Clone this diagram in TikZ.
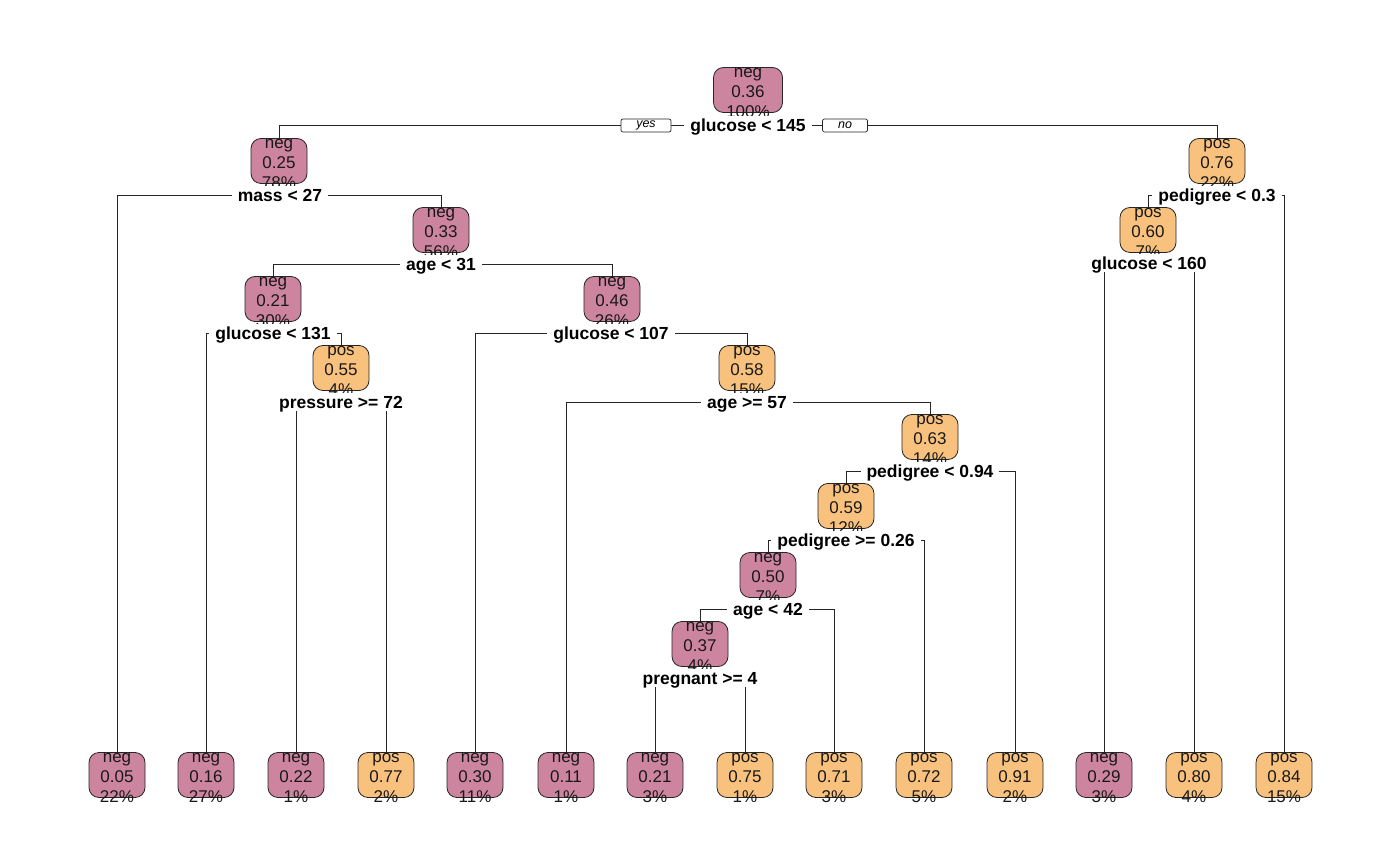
\documentclass[tikz,border=0pt]{standalone}
\usepackage{fontspec}
\setmainfont{Liberation Sans}
\pgfdeclarelayer{bg}
\pgfsetlayers{bg,main}
\definecolor{negc}{RGB}{205,132,158}
\definecolor{posc}{RGB}{248,193,125}
\newcommand\tn[7]{%
  \node[#4] (#1) at (#2,#3+23) {};
  \node[txt] (#1a) at (#2,#3+4) {#5};
  \node[txt] (#1b) at (#2,#3+24) {#6};
  \node[txt] (#1c) at (#2,#3+44) {#7};
}
\begin{document}
\begin{tikzpicture}[x=1pt,y=-1pt,
  box/.style={draw=black!85, line width=0.8pt, rounded corners=10pt, minimum width=56pt, minimum height=45pt, inner sep=0pt},
  negbox/.style={box, fill=negc},
  posbox/.style={box, fill=posc},
  txt/.style={font=\fontsize{17}{20}\selectfont, inner sep=0pt, text height=12.4pt, text depth=0pt, text=black!90},
  split/.style={font=\fontsize{17.5}{21}\selectfont\bfseries, fill=white, inner xsep=6pt, inner ysep=0pt, text height=15.5pt, text depth=3pt},
  yn/.style={draw=black!85, fill=white, rounded corners=2pt, font=\fontsize{12.5}{14}\selectfont\itshape, minimum height=13pt, inner sep=0pt, line width=0.7pt},
  conn/.style={draw=black!85, line width=0.9pt}]
\useasboundingbox (0,0) rectangle (1400,866);
% internal nodes
\tn{n1}{748}{67}{negbox,minimum width=69pt}{neg}{0.36}{100\%}
\tn{n2}{279}{138}{negbox}{neg}{0.25}{78\%}
\tn{n3}{1217}{138}{posbox}{pos}{0.76}{22\%}
\tn{n4}{441}{207}{negbox}{neg}{0.33}{56\%}
\tn{n6}{1148}{207}{posbox}{pos}{0.60}{7\%}
\tn{n8}{273}{276}{negbox}{neg}{0.21}{30\%}
\tn{n9}{612}{276}{negbox}{neg}{0.46}{26\%}
\tn{n10}{341}{345}{posbox}{pos}{0.55}{4\%}
\tn{n11}{747}{345}{posbox}{pos}{0.58}{15\%}
\tn{n12}{930}{414}{posbox}{pos}{0.63}{14\%}
\tn{n13}{846}{483}{posbox}{pos}{0.59}{12\%}
\tn{n14}{768}{552}{negbox}{neg}{0.50}{7\%}
\tn{n15}{700}{621}{negbox}{neg}{0.37}{4\%}
% leaves
\tn{l1}{117}{752}{negbox}{neg}{0.05}{22\%}
\tn{l2}{206}{752}{negbox}{neg}{0.16}{27\%}
\tn{l3}{296}{752}{negbox}{neg}{0.22}{1\%}
\tn{l4}{386}{752}{posbox}{pos}{0.77}{2\%}
\tn{l5}{475}{752}{negbox}{neg}{0.30}{11\%}
\tn{l6}{566}{752}{negbox}{neg}{0.11}{1\%}
\tn{l7}{655}{752}{negbox}{neg}{0.21}{3\%}
\tn{l8}{745}{752}{posbox}{pos}{0.75}{1\%}
\tn{l9}{834}{752}{posbox}{pos}{0.71}{3\%}
\tn{l10}{924}{752}{posbox}{pos}{0.72}{5\%}
\tn{l11}{1015}{752}{posbox}{pos}{0.91}{2\%}
\tn{l12}{1104}{752}{negbox}{neg}{0.29}{3\%}
\tn{l13}{1194}{752}{posbox}{pos}{0.80}{4\%}
\tn{l14}{1284}{752}{posbox}{pos}{0.84}{15\%}
% split labels
\node[split] (s1) at (748,125) {glucose < 145};
\node[split] (s2) at (280,195) {mass < 27};
\node[split] (s3) at (1217,195) {pedigree < 0.3};
\node[split] (s4) at (441,264) {age < 31};
\node[split] (s6) at (1149,263) {glucose < 160};
\node[split] (s8) at (273,333) {glucose < 131};
\node[split] (s9) at (611,333) {glucose < 107};
\node[split] (s10) at (341,402) {pressure >= 72};
\node[split] (s11) at (747,402) {age >= 57};
\node[split] (s12) at (930,471) {pedigree < 0.94};
\node[split] (s13) at (846,540) {pedigree >= 0.26};
\node[split] (s14) at (768,609) {age < 42};
\node[split] (s15) at (700,678) {pregnant >= 4};
\node[yn,minimum width=50pt] (yes) at (646,125.5) {yes};
\node[yn,minimum width=45pt] (no) at (845,125.5) {no};
% connectors
\begin{pgfonlayer}{bg}
\draw[conn] (s1.center) -| (n2.north);
\draw[conn] (s1.center) -| (n3.north);
\draw[conn] (s2.center) -| (l1.north);
\draw[conn] (s2.center) -| (n4.north);
\draw[conn] (s3.center) -| (n6.north);
\draw[conn] (s3.center) -| (l14.north);
\draw[conn] (s4.center) -| (n8.north);
\draw[conn] (s4.center) -| (n9.north);
\draw[conn] (s6.center) -| (l12.north);
\draw[conn] (s6.center) -| (l13.north);
\draw[conn] (s8.center) -| (l2.north);
\draw[conn] (s8.center) -| (n10.north);
\draw[conn] (s9.center) -| (l5.north);
\draw[conn] (s9.center) -| (n11.north);
\draw[conn] (s10.center) -| (l3.north);
\draw[conn] (s10.center) -| (l4.north);
\draw[conn] (s11.center) -| (l6.north);
\draw[conn] (s11.center) -| (n12.north);
\draw[conn] (s12.center) -| (n13.north);
\draw[conn] (s12.center) -| (l11.north);
\draw[conn] (s13.center) -| (n14.north);
\draw[conn] (s13.center) -| (l10.north);
\draw[conn] (s14.center) -| (n15.north);
\draw[conn] (s14.center) -| (l9.north);
\draw[conn] (s15.center) -| (l7.north);
\draw[conn] (s15.center) -| (l8.north);
\end{pgfonlayer}
\end{tikzpicture}
\end{document}
